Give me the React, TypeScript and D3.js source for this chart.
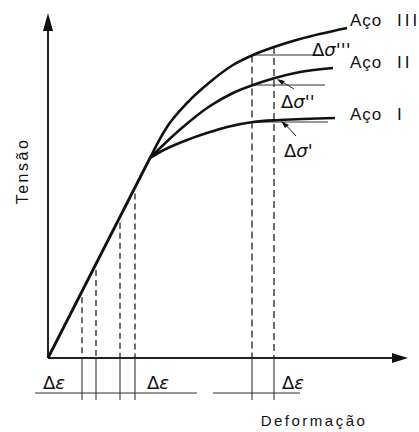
import React from "react";
import * as d3 from "d3";

// strain / stress in arbitrary units
const elastic = [
  [0, 0],
  [102, 200],
];
const acoI = [
  [102, 200], [112, 206], [139, 218], [162, 226], [179, 231],
  [205, 236], [232, 238], [287, 240],
];
const acoII = [
  [102, 200], [109, 207], [135, 231], [162, 252], [185, 265],
  [205, 273], [227, 280], [252, 286], [285, 290],
];
const acoIII = [
  [102, 200], [106, 208], [119, 231], [139, 255], [162, 276],
  [185, 293], [205, 303], [226, 311], [252, 319], [299, 330],
];
const curveNames = ["Aço", "Aço", "Aço"];
const curveNumerals = ["III", "II", "I"];

// strain pairs (Δε) marked with dashed verticals
const leftPairs = [[34, 48], [72, 87]];
const rightPair = [204, 226];
const deltaSigma = [
  { label: "Δσ'''", from: 303, to: 272 },
  { label: "Δσ''", from: 273, to: 277 },
  { label: "Δσ'", from: 236, to: 280 },
];

const W = 419;
const H = 432;

const x = d3.scaleLinear().domain([0, 360]).range([48, 408]);
const y = d3.scaleLinear().domain([0, 345]).range([358, 13]);

const line = d3
  .line<number[]>()
  .x((d) => x(d[0]))
  .y((d) => y(d[1]))
  .curve(d3.curveMonotoneX);

const interp = (pts: number[][], sx: number) => {
  for (let i = 1; i < pts.length; i++) {
    if (sx <= pts[i][0]) {
      const t = (sx - pts[i - 1][0]) / (pts[i][0] - pts[i - 1][0]);
      return pts[i - 1][1] + t * (pts[i][1] - pts[i - 1][1]);
    }
  }
  return pts[pts.length - 1][1];
};

const font = "'Liberation Sans', Arial, sans-serif";

export default function App() {
  const curves = [acoIII, acoII, acoI];
  const labelY = [26, 68, 120];
  const sigLabelPos = [
    [312, 56],
    [281, 108],
    [284, 157],
  ];
  const allLeft = leftPairs.flat();
  const dimY = y(-35);
  const extY = y(-42);

  return (
    <svg
      width={W}
      height={H}
      style={{ position: "absolute", left: 0, top: 0, background: "#fff" }}
    >
      {/* axes */}
      <line x1={x(0)} y1={y(0)} x2={x(0)} y2={y(330)} stroke="#222" strokeWidth={2} />
      <path d={`M${x(0)},${y(345)} L${x(0) - 5},${y(327)} L${x(0) + 5},${y(327)} Z`} fill="#111" />
      <line x1={x(0)} y1={y(0)} x2={x(345)} y2={y(0)} stroke="#222" strokeWidth={2} />
      <path d={`M${x(360)},${y(0)} L${x(344)},${y(0) - 5} L${x(344)},${y(0) + 5} Z`} fill="#111" />

      {/* dashed verticals on elastic line */}
      {allLeft.map((s) => (
        <g key={"l" + s}>
          <line
            x1={x(s)} x2={x(s)}
            y1={y(interp(elastic, s)) + 6} y2={y(0)}
            stroke="#222" strokeWidth={1.3} strokeDasharray="6,4"
          />
          <line x1={x(s)} x2={x(s)} y1={y(0)} y2={extY} stroke="#222" strokeWidth={1} />
        </g>
      ))}
      {rightPair.map((s) => (
        <g key={"r" + s}>
          <line
            x1={x(s)} x2={x(s)}
            y1={y(interp(acoIII, s))} y2={y(0)}
            stroke="#222" strokeWidth={1.3} strokeDasharray="7,4"
          />
          <line x1={x(s)} x2={x(s)} y1={y(0)} y2={extY} stroke="#222" strokeWidth={1} />
        </g>
      ))}

      {/* dimension lines */}
      <line x1={x(-13)} x2={x(149)} y1={dimY} y2={dimY} stroke="#333" strokeWidth={1} />
      <line x1={x(165)} x2={x(252)} y1={dimY} y2={dimY} stroke="#333" strokeWidth={1} />

      {/* Δσ horizontal lines */}
      {deltaSigma.map((d) => (
        <line
          key={d.label}
          x1={x(rightPair[0])} x2={x(d.to)}
          y1={y(d.from)} y2={y(d.from)}
          stroke="#333" strokeWidth={1}
        />
      ))}

      {/* stress-strain curves */}
      <path d={line(elastic) || ""} fill="none" stroke="#111" strokeWidth={2.8} />
      {curves.map((c, i) => (
        <path key={i} d={line(c) || ""} fill="none" stroke="#111" strokeWidth={2.6} />
      ))}

      {/* leader arrows */}
      <line x1={294} y1={89} x2={279} y2={80} stroke="#222" strokeWidth={1} />
      <path d="M277,79 L285,81 L282,85 Z" fill="#111" />
      <line x1={296} y1={136} x2={283} y2={122} stroke="#222" strokeWidth={1} />
      <path d="M281,121 L289,125 L285,128 Z" fill="#111" />

      {/* labels */}
      {curveNames.map((n, i) => (
        <text key={i} y={labelY[i]} fontFamily={font} fontSize={17} fill="#111" letterSpacing={1}>
          <tspan x={350}>{n}</tspan>
          <tspan x={397} letterSpacing={3}>{curveNumerals[i]}</tspan>
        </text>
      ))}
      {deltaSigma.map((d, i) => (
        <text
          key={"t" + d.label}
          x={sigLabelPos[i][0]} y={sigLabelPos[i][1]}
          fontFamily="'DejaVu Sans', sans-serif" fontSize={18} fill="#111"
        >
          Δ<tspan fontStyle="italic">{d.label.slice(1)}</tspan>
        </text>
      ))}
      {[[43, 389], [147, 389], [282, 389]].map((p, i) => (
        <text
          key={"e" + i}
          x={p[0]} y={p[1]}
          fontFamily="'DejaVu Sans', sans-serif" fontSize={18} fill="#111"
        >
          Δ<tspan fontStyle="italic">ε</tspan>
        </text>
      ))}
      <text x={314} y={426} textAnchor="middle" fontFamily={font} fontSize={15} letterSpacing={2.5} fill="#111">
        Deformação
      </text>
      <text
        transform="translate(28,171) rotate(-90)"
        textAnchor="middle" fontFamily={font} fontSize={16} letterSpacing={2.5} fill="#111"
      >
        Tensão
      </text>
    </svg>
  );
}
